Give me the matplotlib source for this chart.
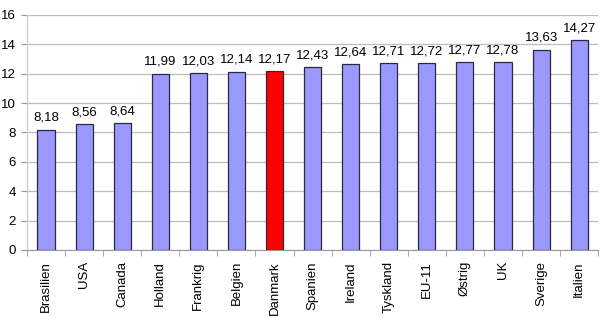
import matplotlib.pyplot as plt
import numpy as np

plt.rcParams['font.family'] = ['Liberation Sans', 'DejaVu Sans']

lande = ['Brasilien', 'USA', 'Canada', 'Holland', 'Frankrig', 'Belgien', 'Danmark',
         'Spanien', 'Ireland', 'Tyskland', 'EU-11', 'Østrig', 'UK', 'Sverige', 'Italien']
vaerdier = [8.18, 8.56, 8.64, 11.99, 12.03, 12.14, 12.17,
            12.43, 12.64, 12.71, 12.72, 12.77, 12.78, 13.63, 14.27]
fremhaevet = 'Danmark'

fig = plt.figure(figsize=(6, 3.18), dpi=100)
ax = fig.add_axes([0.045, 0.214, 0.952, 0.739])

x = np.arange(len(lande))
farver = ['#ff0000' if l == fremhaevet else '#9999ff' for l in lande]
bars = ax.bar(x, vaerdier, width=0.45, color=farver, edgecolor='#2a2a3a', linewidth=0.9, zorder=3)

for b, v in zip(bars, vaerdier):
    ax.text(b.get_x() + b.get_width() / 2, v + 0.4, f'{v:.2f}'.replace('.', ','),
            ha='center', va='bottom', fontsize=9.5)

ax.set_xlim(-0.5, len(lande) - 0.5)
ax.set_ylim(0, 16)
ax.set_yticks(range(0, 17, 2))
ax.yaxis.grid(True, color='#bdbdbd', linewidth=0.9, zorder=0)

ax.set_xticks(x)
ax.set_xticklabels(lande, rotation=90, fontsize=9.5)
ax.tick_params(axis='x', length=0, pad=8)
ax.set_xticks(np.arange(-0.5, len(lande), 1), minor=True)
ax.tick_params(axis='x', which='minor', length=4, color='#999999')
ax.tick_params(axis='y', length=4, color='#999999', labelsize=9.5, pad=4)

for s in ['top', 'right']:
    ax.spines[s].set_visible(False)
ax.spines['bottom'].set_color('#999999')
ax.spines['left'].set_color('#c8c8c8')

fig.savefig('out.png', dpi=100)
